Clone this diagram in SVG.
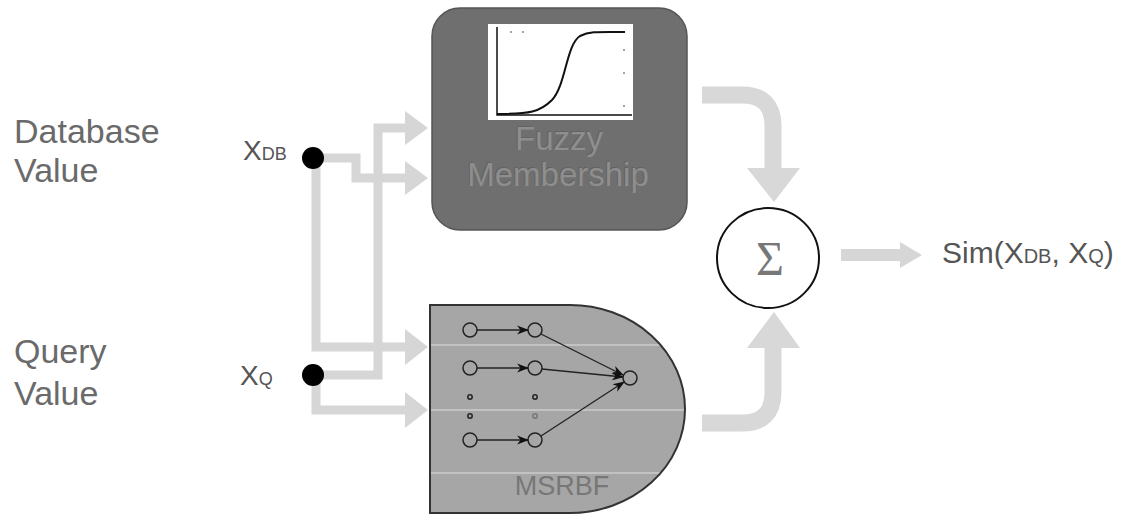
<svg xmlns="http://www.w3.org/2000/svg" width="1128" height="515" viewBox="0 0 1128 515">
<style>
.lbl{font-family:"Liberation Sans",Arial,sans-serif;fill:#6a6a6a}
.xl{font-family:"Liberation Sans",Arial,sans-serif;fill:#555}
.con{fill:none;stroke:#d6d6d6;stroke-width:9}
.head{fill:#d6d6d6}
.big{fill:none;stroke:#d8d8d8;stroke-width:17}
.bighead{fill:#d8d8d8}
.nn{fill:none;stroke:#222;stroke-width:1.5}
.nl{stroke:#222;stroke-width:1.3;fill:none}
.emb{font-family:"Liberation Sans",Arial,sans-serif;text-anchor:middle}
</style>
<defs>
<marker id="ah" viewBox="0 0 12 10" refX="11" refY="5" markerWidth="12" markerHeight="10" markerUnits="userSpaceOnUse" orient="auto">
<path d="M0,0.5 L12,5 L0,9.5 L3.5,5 Z" fill="#111"/>
</marker>
<clipPath id="dclip">
<path d="M430,305 H570 A115,104 0 0 1 570,513 H430 Z"/>
</clipPath>
</defs>
<rect width="1128" height="515" fill="#fff"/>

<g id="label-db">
<text class="lbl" x="14" y="143" font-size="34">Database</text>
<text class="lbl" x="14" y="182" font-size="34">Value</text>
</g>
<g id="label-q">
<text class="lbl" x="14" y="363" font-size="34">Query</text>
<text class="lbl" x="14" y="405" font-size="34">Value</text>
</g>

<g id="connectors">
<path class="con" d="M313,158 H356 V178 H408"/>
<polygon class="head" points="405,161 428,178 405,195"/>
<path class="con" d="M316,158 V347 H408"/>
<polygon class="head" points="405,329 428,347 405,365"/>
<path class="con" d="M313,375 H378 V128 H408"/>
<polygon class="head" points="405,111 428,128 405,145"/>
<path class="con" d="M316,375 V410 H408"/>
<polygon class="head" points="405,392 428,410 405,428"/>
<path class="big" d="M702,95 H742 Q773,95 773,126 V170"/>
<polygon class="bighead" points="747,168 800,168 774,202"/>
<path class="big" d="M702,423 H742 Q773,423 773,392 V347"/>
<polygon class="bighead" points="747,348 800,348 774,312"/>
<path d="M841,255 H902" stroke="#d6d6d6" stroke-width="12" fill="none"/>
<polygon class="head" points="900,242 922,255 900,268"/>
</g>

<g id="xdb">
<text class="xl" x="243" y="160" font-size="28">X<tspan font-size="18">DB</tspan></text>
<circle cx="313" cy="158" r="11" fill="#000"/>
</g>
<g id="xq">
<text class="xl" x="240" y="385" font-size="28">X<tspan font-size="18">Q</tspan></text>
<circle cx="313" cy="375" r="11" fill="#000"/>
</g>

<g id="fuzzy">
<rect x="432" y="8" width="255" height="222" rx="28" fill="#6f6f6f" stroke="#555" stroke-width="1.5"/>
<rect x="488" y="24" width="145" height="96" fill="#fff"/>
<path d="M497,27 V115 H632" fill="none" stroke="#111" stroke-width="1.5"/>
<path d="M497,114 C530,114 540,112 552,100 C566,85 566,45 580,36 C590,31 600,32 625,32" fill="none" stroke="#111" stroke-width="2"/>
<circle cx="511" cy="32" r="0.8" fill="#333"/><circle cx="523" cy="32" r="0.8" fill="#333"/>
<circle cx="624" cy="50" r="0.8" fill="#333"/><circle cx="624" cy="73" r="0.8" fill="#333"/><circle cx="624" cy="106" r="0.8" fill="#333"/>
<text class="emb" x="558" y="149" font-size="33" fill="#626262">Fuzzy</text>
<text class="emb" x="559" y="150" font-size="33" fill="#8e8e8e">Fuzzy</text>
<text class="emb" x="557" y="185" font-size="33" fill="#626262">Membership</text>
<text class="emb" x="558" y="186" font-size="33" fill="#8e8e8e">Membership</text>
</g>

<g id="msrbf">
<path d="M430,305 H570 A115,104 0 0 1 570,513 H430 Z" fill="#a6a6a6"/>
<g stroke="#c2c2c2" stroke-width="2" clip-path="url(#dclip)">
<line x1="431" y1="345" x2="700" y2="345"/>
<line x1="431" y1="410" x2="700" y2="410"/>
<line x1="431" y1="473" x2="700" y2="473"/>
</g>
<path d="M430,305 H570 A115,104 0 0 1 570,513 H430 Z" fill="none" stroke="#333" stroke-width="2"/>
<g class="nn">
<circle cx="470" cy="330" r="7"/><circle cx="535" cy="330" r="7"/>
<circle cx="470" cy="368" r="7"/><circle cx="535" cy="368" r="7"/>
<circle cx="470" cy="440" r="7"/><circle cx="535" cy="440" r="7"/>
<circle cx="630" cy="378" r="7"/>
<circle cx="470" cy="397" r="2.2"/><circle cx="470" cy="416" r="2.2"/>
<circle cx="535" cy="397" r="2.2"/><circle cx="535" cy="416" r="2.2" stroke="#777"/>
</g>
<g class="nl" marker-end="url(#ah)">
<line x1="477" y1="330" x2="528" y2="330"/>
<line x1="477" y1="368" x2="528" y2="368"/>
<line x1="477" y1="440" x2="528" y2="440"/>
<line x1="541" y1="334" x2="623" y2="375"/>
<line x1="542" y1="369" x2="623" y2="377"/>
<line x1="541" y1="436" x2="624" y2="382"/>
</g>
<text class="emb" x="562" y="495" font-size="27" fill="#777">MSRBF</text>
</g>

<g id="sum">
<ellipse cx="768" cy="258" rx="51" ry="50" fill="#fff" stroke="#111" stroke-width="2"/>
<text x="770" y="275" font-family="Liberation Serif,serif" font-size="48" fill="#777" text-anchor="middle">Σ</text>
</g>

<g id="output">
<text class="xl" x="942" y="263" font-size="30" fill="#555">Sim(X<tspan font-size="20">DB</tspan>, X<tspan font-size="20">Q</tspan>)</text>
</g>
</svg>
